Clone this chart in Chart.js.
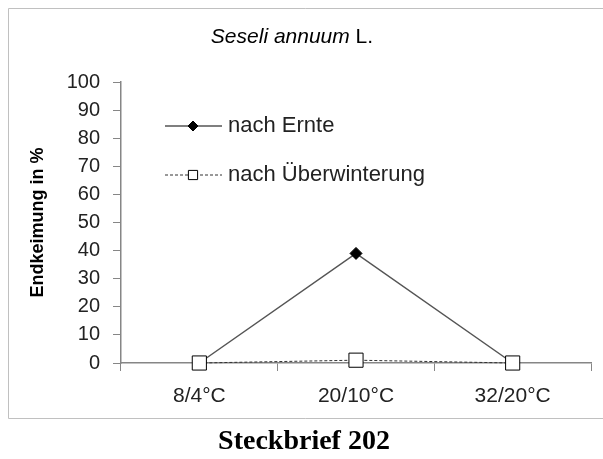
<!DOCTYPE html>
<html>
<head>
<meta charset="utf-8">
<script src="https://cdn.jsdelivr.net/npm/chart.js@4"></script>
<style>
  html, body { margin: 0; padding: 0; background: #fff; }
  #wrap { width: 603px; height: 459px; position: relative; }
</style>
</head>
<body>
<div id="wrap"><canvas id="lineChart" width="603" height="459"></canvas></div>
<script>
// data
var categories = ["8/4°C", "20/10°C", "32/20°C"];
var nachErnte = [0, 39, 0];
var nachUeberwinterung = [0, 1, 0];
var yTicks = [0, 10, 20, 30, 40, 50, 60, 70, 80, 90, 100];
var seriesNames = ["nach Ernte", "nach Überwinterung"];

var axisColor = "#868686";
var textColor = "#222";
var sans = "'Liberation Sans', Arial, sans-serif";

// border, title (partly italic), legend and caption
var decorations = {
  id: "decorations",
  beforeDraw: function (chart) {
    var ctx = chart.ctx;
    ctx.save();
    ctx.fillStyle = "#fff";
    ctx.fillRect(0, 0, chart.width, chart.height);
    ctx.strokeStyle = "#c0c0c0";
    ctx.lineWidth = 1;
    ctx.beginPath();
    ctx.moveTo(603, 8.5);
    ctx.lineTo(8.5, 8.5);
    ctx.lineTo(8.5, 418.5);
    ctx.lineTo(603, 418.5);
    ctx.stroke();
    ctx.restore();
  },
  afterDraw: function (chart) {
    var ctx = chart.ctx;
    ctx.save();
    ctx.fillStyle = "#000";
    ctx.textBaseline = "middle";

    // title
    var part1 = "Seseli annuum";
    var part2 = " L.";
    ctx.font = "italic 21px " + sans;
    var w1 = ctx.measureText(part1).width;
    ctx.font = "21px " + sans;
    var w2 = ctx.measureText(part2).width;
    var tx = 292 - (w1 + w2) / 2;
    ctx.font = "italic 21px " + sans;
    ctx.fillText(part1, tx, 37);
    ctx.font = "21px " + sans;
    ctx.fillText(part2, tx + w1, 37);

    // legend inside plot
    var rows = [126, 175];
    chart.data.datasets.forEach(function (ds) {
      var y = rows[ds.legendRow];
      ctx.strokeStyle = ds.borderColor;
      ctx.lineWidth = ds.borderWidth;
      ctx.setLineDash(ds.borderDash || []);
      ctx.beginPath();
      ctx.moveTo(165, y);
      ctx.lineTo(222, y);
      ctx.stroke();
      ctx.setLineDash([]);
      ctx.fillStyle = ds.pointBackgroundColor;
      ctx.strokeStyle = ds.pointBorderColor;
      ctx.lineWidth = 1;
      Chart.helpers.drawPoint(ctx, {
        pointStyle: ds.pointStyle,
        radius: ds.legendRadius,
        borderWidth: 1
      }, 193, y);
      ctx.fillStyle = textColor;
      ctx.font = "22px " + sans;
      ctx.fillText(ds.label, 228, y);
    });

    // caption under the box
    ctx.fillStyle = "#000";
    ctx.textAlign = "center";
    ctx.font = "bold 28px 'Liberation Serif', 'Times New Roman', serif";
    ctx.fillText("Steckbrief 202", 304, 442);
    ctx.restore();
  }
};

var ctx = document.getElementById("lineChart").getContext("2d");

var myChart = new Chart(ctx, {
  type: "line",
  data: {
    labels: categories,
    datasets: [
      {
        label: seriesNames[0],
        data: nachErnte,
        borderColor: "#555",
        borderWidth: 1.5,
        pointStyle: "rectRot",
        pointRadius: 6,
        pointBackgroundColor: "#000",
        pointBorderColor: "#000",
        pointBorderWidth: 1,
        clip: false,
        legendRow: 0,
        legendRadius: 5,
        order: 2,
      },
      {
        label: seriesNames[1],
        data: nachUeberwinterung,
        borderColor: "#333",
        borderWidth: 1,
        borderDash: [3, 2],
        pointStyle: "rect",
        pointRadius: 10,
        pointBackgroundColor: "#fff",
        pointBorderColor: "#000",
        pointBorderWidth: 1,
        clip: false,
        legendRow: 1,
        legendRadius: 6.5,
        order: 1,
      },
    ],
  },
  options: {
    responsive: false,
    animation: false,
    layout: { padding: { top: 82, right: 12, bottom: 0, left: 0 } },
    plugins: {
      legend: { display: false },
      tooltip: { enabled: false },
    },
    scales: {
      x: {
        offset: true,
        border: { color: axisColor, width: 1.5 },
        grid: {
          offset: true,
          drawOnChartArea: false,
          drawTicks: true,
          tickLength: 8,
          color: axisColor,
        },
        ticks: {
          color: textColor,
          padding: 13,
          font: { family: sans, size: 21 },
        },
        afterFit: function (scale) {
          scale.height = 459 - 363;
        },
      },
      y: {
        min: 0,
        max: 100,
        afterBuildTicks: function (scale) {
          scale.ticks = yTicks.map(function (v) { return { value: v }; });
        },
        border: { color: axisColor, width: 1.5 },
        grid: {
          drawOnChartArea: false,
          drawTicks: true,
          tickLength: 8,
          color: axisColor,
        },
        ticks: {
          color: textColor,
          padding: 13,
          autoSkip: false,
          font: { family: sans, size: 20 },
        },
        title: {
          display: true,
          text: "Endkeimung in %",
          color: "#000",
          padding: { top: 27, bottom: 0 },
          font: { family: sans, size: 18, weight: "bold" },
        },
        afterFit: function (scale) {
          scale.width = 121;
        },
      },
    },
  },
  plugins: [decorations],
});
</script>
</body>
</html>
